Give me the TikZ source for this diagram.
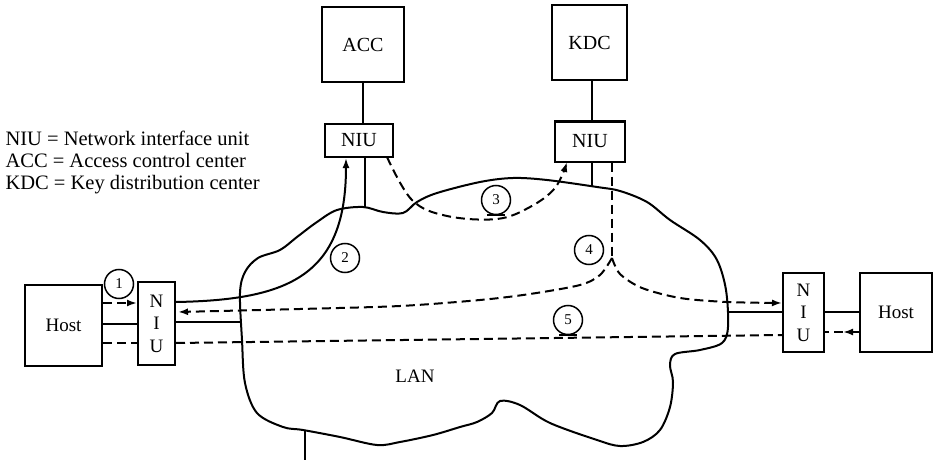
\documentclass[tikz,border=0pt]{standalone}
\usepackage{fontspec}
\setmainfont{Liberation Serif}
\usetikzlibrary{arrows.meta,calc}
\begin{document}
\begin{tikzpicture}[x=1pt,y=-1pt,
  box/.style={draw,line width=2pt,inner sep=0pt,font=\fontsize{20}{20}\selectfont},
  vbox/.style={box,align=center,font=\fontsize{19}{22.5}\selectfont},
  lbl/.style={circle,draw,line width=1.5pt,minimum size=29pt,inner sep=0pt,font=\fontsize{15}{15}\selectfont},
  wire/.style={line width=2pt},
  dline/.style={line width=2pt,dash pattern=on 9pt off 5pt},
  arr/.style={-{Latex[length=10pt,width=7pt]}}
]
\useasboundingbox (0,0) rectangle (938,460);

% legend
\node[anchor=west,align=left,font=\fontsize{20.5}{22}\selectfont] (legend) at (2,162)
  {NIU = Network interface unit\\ACC = Access control center\\KDC = Key distribution center};

% boxes
\node[box,minimum width=82pt,minimum height=75pt] (acc) at (363,44.5) {ACC};
\node[box,minimum width=68pt,minimum height=33pt] (accniu) at (359,140.5) {NIU};
\node[box,minimum width=75pt,minimum height=75pt] (kdc) at (589.5,42.5) {KDC};
\node[box,minimum width=70pt,minimum height=40pt] (kdcniu) at (590,141.5) {NIU};
\node[box,font=\fontsize{19}{19}\selectfont,minimum width=77pt,minimum height=81pt] (lhost) at (63.5,325.5) {Host};
\node[vbox,minimum width=37pt,minimum height=83pt] (lniu) at (156.5,323.5) {N\\I\\U};
\node[vbox,minimum width=41pt,minimum height=79pt] (rniu) at (803.5,312.5) {N\\I\\U};
\node[box,font=\fontsize{19}{19}\selectfont,minimum width=72pt,minimum height=79pt] (rhost) at (896,312.5) {Host};

% LAN cloud
\draw[wire] plot[smooth cycle,tension=0.55] coordinates {
 (240,293) (245,272) (258,258) (280,250) (297,237) (317,222) (337,210) (363,207)
 (383,212) (403,213) (417,202) (437,193) (480,182) (513,178) (547,180) (597,187)
 (620,191) (647,202) (670,220) (700,240) (717,260) (726,290) (728,327) (722,343)
 (700,350) (675,354) (670,365) (673,382) (670,407) (660,430) (643,442) (620,446)
 (597,440) (550,423) (520,405) (500,401) (492,413) (477,422) (460,427) (433,435)
 (400,442) (377,445) (340,437) (303,430) (283,427) (257,413) (245,383) (242,340)};
\node[font=\fontsize{19}{19}\selectfont] (lan) at (415,376) {LAN};

% helper coordinates
\coordinate (ya) at (0,303);
\coordinate (yb) at (0,324);
\coordinate (yc) at (0,343);
\coordinate (y1) at (0,302);
\coordinate (y2) at (0,312);
\coordinate (y3) at (0,322);
\coordinate (ry4) at (0,335);
\coordinate (s1) at (0,303);
\coordinate (s2) at (0,312);
\coordinate (s3) at (0,332);
\coordinate (cloudL) at (241,322);
\coordinate (cloudR) at (728,312);
\coordinate (x2) at (346,0);
\coordinate (x3) at (387,0);
\coordinate (xacc) at (365,0);
\coordinate (xk1) at (592,0);
\coordinate (xk2) at (612,0);
\coordinate (accleg) at (365,207);
\coordinate (kdcleg) at (592,186);
\coordinate (split) at (612,258);
\coordinate (k3) at (567,162);
\coordinate (mid5) at (843,332);
\coordinate (stubtop) at (305,431);
\coordinate (stubbot) at (305,462);

% ACC / KDC connections
\draw[wire] (acc.south) -- (acc.south |- accniu.north);
\draw[wire] (kdc.south -| xk1) -- (kdcniu.north -| xk1);
\draw[wire] (accniu.south -| xacc) -- (accleg);
\draw[wire] (kdcniu.south -| xk1) -- (kdcleg);
\draw[dline] (kdcniu.south -| xk2) -- (split);

% left host - NIU
\draw[dline,arr] (lhost.east |- ya) -- (lniu.west |- ya);
\draw[wire] (lhost.east |- yb) -- (lniu.west |- yb);
\draw[dline] (lhost.east |- yc) -- (lniu.west |- yc);

% left NIU to LAN
\draw[wire] (lniu.east |- y3) -- (cloudL);
\draw[dline] (lniu.east |- yc) -- (rniu.west |- ry4);

% step 2
\draw[wire,arr] (lniu.east |- y1) .. controls (290,300) and (346,275) .. (accniu.south -| x2);

% step 3
\draw[dline,arr] plot[smooth,tension=0.6] coordinates {(387,157) (412,200) (447,216) (497,219) (530,207) (555,188) (567,162)};

% step 4 branches
\draw[dline,arr] plot[smooth,tension=0.5] coordinates {(612,258) (600,275) (580,285) (530,294) (480,300) (400,306) (300,309) (178,312)};
\draw[dline,arr] plot[smooth,tension=0.5] coordinates {(612,258) (620,274) (642,288) (680,298) (727,302) (782,303)};

% right side
\draw[wire] (cloudR) -- (rniu.west |- s2);
\draw[wire] (rniu.east |- s2) -- (rhost.west |- s2);
\draw[dline,arr] (rhost.west |- s3) -- (mid5);
\draw[dline] (mid5) -- (rniu.east |- s3);

% stub below LAN
\draw[wire] (stubtop) -- (stubbot);

% step labels
\node[lbl] (c1) at (119,284) {1};
\node[lbl] (c2) at (345,258) {2};
\node[lbl] (c3) at (496,200) {3};
\node[lbl] (c4) at (589,250) {4};
\node[lbl] (c5) at (568,320) {5};
\draw[wire] ($(c3.south)+(-9,0)$) -- ($(c3.south)+(9,0)$);
\draw[wire] ($(c5.south)+(-9,0)$) -- ($(c5.south)+(9,0)$);
\end{tikzpicture}
\end{document}
